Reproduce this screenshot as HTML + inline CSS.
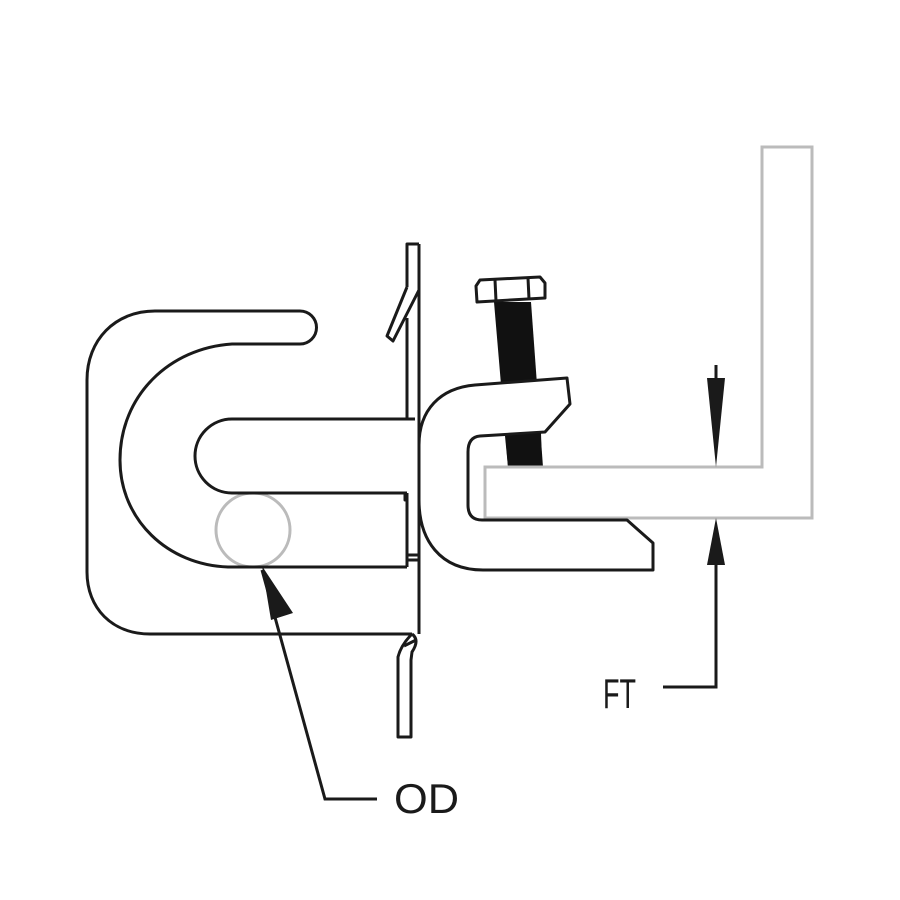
<!DOCTYPE html>
<html><head><style>html,body{margin:0;padding:0;background:#fff}svg{display:block}</style></head>
<body>
<svg width="900" height="900" viewBox="0 0 900 900" xmlns="http://www.w3.org/2000/svg">
<rect width="900" height="900" fill="#fff"/>
<g fill="none" stroke="#bbb" stroke-width="3">
<path d="M762,147 L812,147 L812,518 L485,518 L485,467 L762,467 Z"/>
<circle cx="253" cy="530" r="37"/>
</g>
<g fill="none" stroke="#1a1a1a" stroke-width="3" stroke-linejoin="round">
<path d="M300,311 A16,16 0 0 1 300,344 L232,344 C170,348 120,395 120,460 C120,520 168,565 228,567 L407,567"/>
<path d="M300,311 L155,311 C115,311 87,340 87,380 L87,572 C87,608 112,634 150,634 L412,634"/>
<path d="M415,419 L232,419 A37,37 0 0 0 232,493 L407,493"/>
<path d="M419,244 L419,634"/>
<path d="M407,287 L407,244 L419,244"/>
<path d="M407,318 L407,419"/>
<path d="M407,287 L387,336 L393,341 L419,290"/>
<path d="M407,493 L407,567"/>
<path d="M405,493 L405,500 L408,500"/>
<path d="M407,555 L419,555 M407,560 L419,560"/>
<path d="M412,634 Q420,640 412,652 L411,660 L411,737 L398,737 L398,657 Q401,645 412,634"/>
<path d="M404,646 L416,640"/>
</g>
<polygon points="494,302 531,302 543,467 508,467" fill="#111"/>
<g fill="#fff" stroke="#1a1a1a" stroke-width="3" stroke-linejoin="round">
<path d="M480,280 L540,277 L545,283 L545,298 L477,302 L476,286 Z"/>
<path d="M495,280 L496,301 M528,278 L529,299" fill="none"/>
<path d="M475,385 L567,378 L570,404 L545,432 L480,436 Q468,437 468,452 L468,505 Q468,520 482,520 L627,520 L653,543 L653,570 L483,570 C440,570 419,540 419,500 L419,445 C419,410 440,388 475,385 Z"/>
</g>
<polygon points="505,436 541,433 542,467 508,467" fill="#111"/>
<path d="M485,467 L762,467" stroke="#bbb" stroke-width="3"/>
<g stroke="#1a1a1a" stroke-width="3" fill="none">
<path d="M716,365 L716,400"/>
<path d="M716,560 L716,687 L663,687"/>
<path d="M262,570 L325,799 L377,799"/>
</g>
<polygon points="707,378 725,378 716,467" fill="#1a1a1a"/>
<polygon points="707,565 725,565 716,518" fill="#1a1a1a"/>
<polygon points="262,566 271,620 293,613" fill="#1a1a1a"/>
<g font-family="Liberation Sans, sans-serif" fill="#1a1a1a" font-size="42">
<text x="603" y="708" textLength="33" lengthAdjust="spacingAndGlyphs">FT</text>
<text x="394" y="813" textLength="65" lengthAdjust="spacingAndGlyphs">OD</text>
</g>
</svg>
</body></html>
